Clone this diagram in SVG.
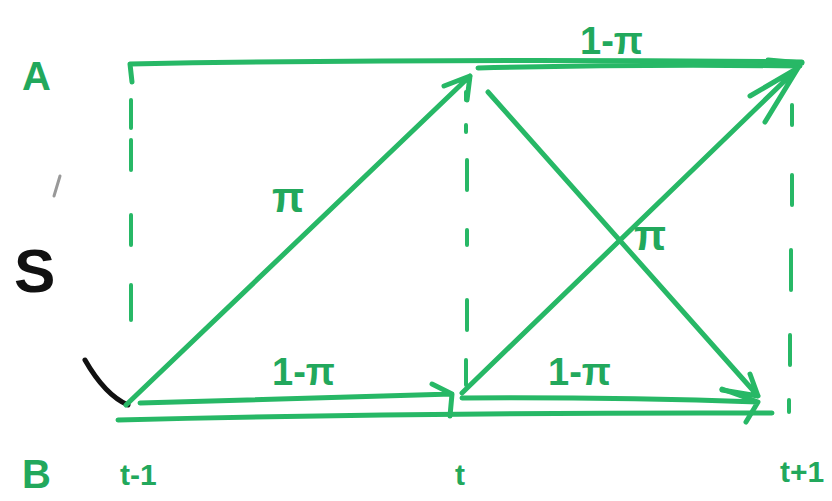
<svg xmlns="http://www.w3.org/2000/svg" width="832" height="501" viewBox="0 0 832 501">
<style>
.ln{stroke:#27b866;stroke-width:5;fill:none;stroke-linecap:round;stroke-linejoin:round}
.ds{stroke:#27b866;stroke-width:4;fill:none;stroke-linecap:round}
.lb{fill:#22a85c;font-family:"Liberation Sans",Arial,sans-serif;font-weight:bold}
</style>
<rect width="832" height="501" fill="#ffffff"/>
<g id="guides">
<path class="ds" d="M131 100V128M131 140V170M131 215V245M131 285V320"/>
<path class="ds" d="M466 92V100M466 125V132M467 160V190M467 230V245M467 300V330M466 360V385"/>
<path class="ds" d="M792 105V125M792 175V205M791 250V290M790 335V365M789 400V412"/>
</g>
<g id="node-A"><text class="lb" x="22" y="90" font-size="40">A</text></g>
<g id="node-B"><text class="lb" x="22" y="488" font-size="40">B</text></g>
<g id="node-S">
<text x="14" y="292" font-family="Liberation Sans,Arial,sans-serif" font-weight="bold" font-size="62" fill="#111">S</text>
<path d="M60 176L54 196" stroke="#999" stroke-width="3" stroke-linecap="round" fill="none"/>
<path d="M85 360Q105 395 128 405" stroke="#111" stroke-width="5" stroke-linecap="round" fill="none"/>
</g>
<g id="time-labels">
<text class="lb" x="120" y="485" font-size="30">t-1</text>
<text class="lb" x="455" y="485" font-size="30">t</text>
<text class="lb" x="780" y="482" font-size="30">t+1</text>
</g>
<g id="connectors">
<path class="ln" d="M132 82L130 64Q460 58 802 62"/>
<path class="ln" d="M478 68Q640 64 800 66M768 60L802 63"/>
<path class="ln" d="M126 405L470 76M444 86L470 76L467 100"/>
<path class="ln" d="M462 393L798 68M750 96L798 68L765 122"/>
<path class="ln" d="M488 92L758 396M750 374L758 396L722 390"/>
<path class="ln" d="M140 403Q300 398 452 394M432 384L452 394L450 416"/>
<path class="ln" d="M118 420Q450 412 772 413"/>
<path class="ln" d="M462 398Q610 397 758 402M722 389L758 402L746 422"/>
</g>
<g id="edge-labels">
<text class="lb" x="580" y="54" font-size="38">1-π</text>
<text class="lb" x="272" y="212" font-size="42">π</text>
<text class="lb" x="634" y="250" font-size="42">π</text>
<text class="lb" x="272" y="385" font-size="38">1-π</text>
<text class="lb" x="548" y="385" font-size="38">1-π</text>
</g>
</svg>
